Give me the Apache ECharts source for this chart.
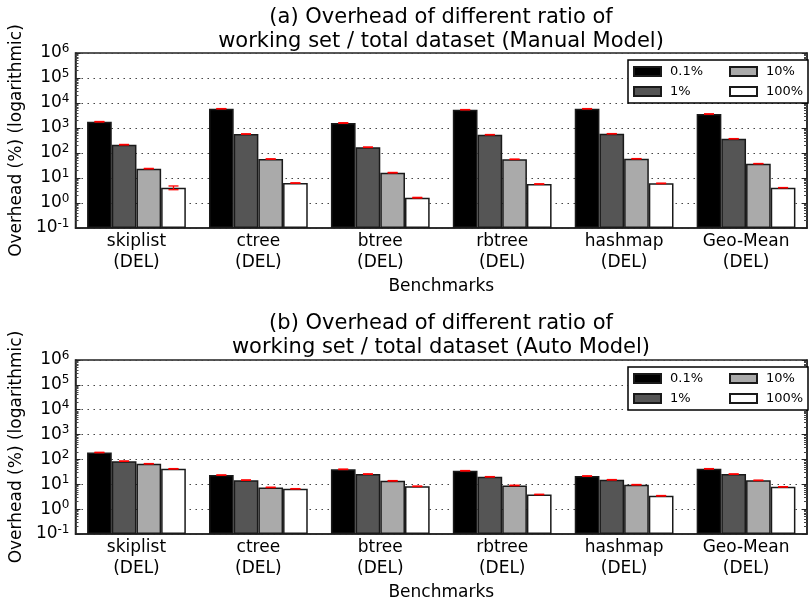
<!DOCTYPE html>
<html>
<head>
<meta charset="utf-8">
<script src="https://cdn.jsdelivr.net/npm/echarts@6/dist/echarts.min.js"></script>
<style>
html,body{margin:0;padding:0;background:#fff;}
#main{width:809px;height:603px;}
</style>
</head>
<body>
<div id="main"></div>
<script>
const categories = ['skiplist\n(DEL)', 'ctree\n(DEL)', 'btree\n(DEL)', 'rbtree\n(DEL)', 'hashmap\n(DEL)', 'Geo-Mean\n(DEL)'];
const seriesNames = ['0.1%', '1%', '10%', '100%'];
const titleA = '(a) Overhead of different ratio of\nworking set / total dataset (Manual Model)';
const titleB = '(b) Overhead of different ratio of\nworking set / total dataset (Auto Model)';
const yAxisName = 'Overhead (%) (logarithmic)';
const xAxisName = 'Benchmarks';

// (a) Manual Model
const manual01  = [1780, 5900, 1585, 5400, 5900, 3630];
const manual1   = [215, 575, 170, 540, 590, 372];
const manual10  = [23.7, 57.5, 16.3, 56, 59, 37.5];
const manual100 = [4.1, 6.3, 1.63, 5.75, 6.1, 4.1];
// (b) Auto Model
const auto01  = [190, 23.4, 40, 35, 21.4, 42];
const auto1   = [85, 14.7, 25.7, 20, 15.2, 25.7];
const auto10  = [67, 7.5, 13.8, 9, 9.6, 14.4];
const auto100 = [42, 6.6, 8.3, 3.9, 3.45, 7.9];

// error bar half-ranges
const manualErr01  = [40, 80, 40, 70, 80, 50];
const manualErr1   = [5, 8, 4, 8, 8, 5];
const manualErr10  = [0.5, 0.8, 0.4, 0.8, 0.8, 0.5];
const manualErr100 = [0.7, 0.1, 0.05, 0.1, 0.15, 0.05];
const autoErr01  = [4, 0.4, 0.8, 0.7, 0.5, 0.8];
const autoErr1   = [1.5, 0.3, 0.6, 0.4, 0.3, 0.5];
const autoErr10  = [1.2, 0.15, 0.3, 0.2, 0.2, 0.3];
const autoErr100 = [0.8, 0.1, 0.2, 0.08, 0.08, 0.15];

const colors = ['#000000', '#555555', '#aaaaaa', '#ffffff'];
const FONT = 'DejaVu Sans';
const CAT_GAP = 0.19;

const chart = echarts.init(document.getElementById('main'), null, {renderer: 'canvas'});

function yAxes(gridIndex) {
  const base = {
    type: 'log', logBase: 10, min: 0.1, max: 1000000, startValue: 0.1, gridIndex: gridIndex,
    axisLine: {show: true, lineStyle: {color: '#222', width: 1.5}},
    axisTick: {show: true, inside: true, length: 5, lineStyle: {color: '#222'}},
    minorTick: {show: true, splitNumber: 9, length: 3, lineStyle: {color: '#444'}},
    splitLine: {show: false}
  };
  const left = Object.assign({}, base, {
    position: 'left',
    name: yAxisName, nameLocation: 'middle', nameGap: 47,
    nameTextStyle: {fontFamily: FONT, fontSize: 17, color: '#000'},
    splitLine: {show: true, lineStyle: {color: '#444', width: 1, type: [1.5, 4.5]}},
    axisLabel: {
      margin: 6, color: '#000', fontFamily: FONT,
      formatter: function (v) {
        const e = Math.round(Math.log10(v));
        return '{b|10}{s|' + e + '}';
      },
      rich: {
        b: {fontFamily: FONT, fontSize: 17, color: '#000'},
        s: {fontFamily: FONT, fontSize: 12, color: '#000', verticalAlign: 'bottom', padding: [0, 0, 9, 0]}
      }
    }
  });
  const right = Object.assign({}, base, {
    position: 'right', axisLabel: {show: false}
  });
  return [left, right];
}

function xAxis(gridIndex) {
  return {
    type: 'category', data: categories, gridIndex: gridIndex,
    name: xAxisName, nameLocation: 'middle', nameGap: 50,
    nameTextStyle: {fontFamily: FONT, fontSize: 17, color: '#000'},
    axisLine: {show: true, lineStyle: {color: '#222', width: 1.5}},
    axisTick: {show: false},
    axisLabel: {margin: 3, fontFamily: FONT, fontSize: 17, color: '#000', lineHeight: 21, interval: 0}
  };
}

function barSeries(name, k, values, xi, yi) {
  return {
    name: name, type: 'bar', xAxisIndex: xi, yAxisIndex: yi,
    data: values, barGap: '0%', barCategoryGap: (CAT_GAP * 100) + '%',
    itemStyle: {color: colors[k], borderColor: '#1a1a1a', borderWidth: 1.5},
    emphasis: {disabled: true}, silent: true
  };
}

function errSeries(name, k, values, errs, xi, yi) {
  return {
    name: name, type: 'custom', xAxisIndex: xi, yAxisIndex: yi, silent: true, z: 5,
    data: values.map(function (v, i) { return [i, v, errs[i]]; }),
    renderItem: function (params, api) {
      const cat = api.value(0), v = api.value(1), e = api.value(2);
      const p0 = api.coord([0, v]), p1 = api.coord([1, v]);
      const band = p1[0] - p0[0];
      const bw = band * (1 - CAT_GAP) / 4;
      const x = api.coord([cat, v])[0] + (k - 1.5) * bw;
      const yHi = api.coord([cat, v + e])[1];
      const yLo = api.coord([cat, Math.max(v - e, 0.0001)])[1];
      const st = {stroke: '#ff0000', lineWidth: 1.3};
      return {type: 'group', children: [
        {type: 'line', shape: {x1: x, y1: yHi, x2: x, y2: yLo}, style: st},
        {type: 'line', shape: {x1: x - 5, y1: yHi, x2: x + 5, y2: yHi}, style: st},
        {type: 'line', shape: {x1: x - 5, y1: yLo, x2: x + 5, y2: yLo}, style: st}
      ]};
    }
  };
}

function legend(top) {
  const col1 = {width: 56, padding: [0, 0, 0, 4]};
  const col2 = {width: 38, padding: [0, 0, 0, 4]};
  return {
    left: 628, top: top, width: 172, orient: 'horizontal',
    padding: [3, 4, 3, 5], itemGap: 3,
    itemWidth: 27, itemHeight: 9, icon: 'rect',
    borderColor: '#000', borderWidth: 1.5, backgroundColor: '#fff',
    textStyle: {fontFamily: FONT, fontSize: 13, color: '#000', lineHeight: 17},
    selectedMode: false,
    data: [
      {name: seriesNames[0], textStyle: col1},
      {name: seriesNames[2], textStyle: col2},
      {name: seriesNames[1], textStyle: col1},
      {name: seriesNames[3], textStyle: col2}
    ]
  };
}

const ya = yAxes(0), yb = yAxes(1);
const setsA = [manual01, manual1, manual10, manual100];
const setsB = [auto01, auto1, auto10, auto100];
const errA = [manualErr01, manualErr1, manualErr10, manualErr100];
const errB = [autoErr01, autoErr1, autoErr10, autoErr100];

const series = [];
seriesNames.forEach(function (n, k) { series.push(barSeries(n, k, setsA[k], 0, 0)); });
seriesNames.forEach(function (n, k) { series.push(barSeries(n, k, setsB[k], 1, 2)); });
seriesNames.forEach(function (n, k) { series.push(errSeries('err' + k, k, setsA[k], errA[k], 0, 0)); });
seriesNames.forEach(function (n, k) { series.push(errSeries('err' + k, k, setsB[k], errB[k], 1, 2)); });

const titleStyle = {fontFamily: FONT, fontSize: 21, fontWeight: 'normal', color: '#000', lineHeight: 24};
chart.setOption({
  animation: false,
  backgroundColor: '#fff',
  title: [
    {text: titleA, left: 441, textAlign: 'center', top: 6, padding: 0, textStyle: titleStyle},
    {text: titleB, left: 441, textAlign: 'center', top: 312, padding: 0, textStyle: titleStyle}
  ],
  legend: [legend(60), legend(367)],
  grid: [
    {left: 75, right: 2, top: 53, height: 175, show: true, borderColor: '#222', borderWidth: 1.5, backgroundColor: 'transparent'},
    {left: 75, right: 2, top: 360, height: 174, show: true, borderColor: '#222', borderWidth: 1.5, backgroundColor: 'transparent'}
  ],
  xAxis: [xAxis(0), xAxis(1)],
  yAxis: [ya[0], ya[1], yb[0], yb[1]],
  series: series
});
</script>
</body>
</html>
